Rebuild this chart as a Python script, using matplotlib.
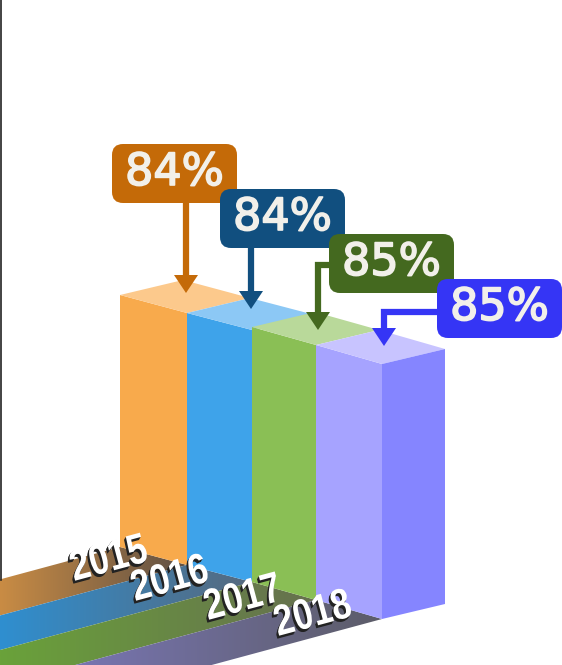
import matplotlib
matplotlib.use('Agg')
import matplotlib.pyplot as plt
import matplotlib.patheffects as pe
from matplotlib.colors import LinearSegmentedColormap, to_rgb
from matplotlib.patches import FancyBboxPatch, Polygon
from matplotlib.transforms import Affine2D
import numpy as np

# data
years = ['2015', '2016', '2017', '2018']
values = [84, 84, 85, 85]
labels = ['84%', '84%', '85%', '85%']

# colours
front_colors = ['#f8aa4c', '#3ea3ea', '#8abf55', '#a6a3ff']
top_colors = ['#fcc98c', '#8cc8f5', '#b9d99a', '#c8c4ff']
box_colors = ['#c46a08', '#114f7f', '#44691f', '#3535f5']
floor_left = ['#c98c44', '#2f8fd0', '#6aa23a', '#7f7bc4']
floor_right = ['#5f5044', '#56697e', '#66704f', '#5c5c68']

# layout in picture pixels
edge_x = [120, 187, 252, 316, 382]
floor_y = [547, 565, 582, 600, 619]
depth = (63, -15)
px_per_pct = 3
floor_slope = 0.27

box_x = [112, 220, 329, 437]
box_y = [144, 189, 234, 279]
box_w, box_h = 125, 59


# squeezes the glyphs sideways and draws a dark extrusion under them
class Condensed(pe.AbstractPathEffect):
    def __init__(self, sx, shadow, depth_px):
        super().__init__()
        self.sx = sx
        self.shadow = to_rgb(shadow)
        self.depth_px = depth_px

    def draw_path(self, renderer, gc, tpath, affine, rgbFace):
        squeezed = Affine2D().scale(self.sx, 1.0) + affine
        for d in range(self.depth_px, 0, -1):
            renderer.draw_path(gc, tpath, squeezed + Affine2D().translate(-d * 0.6, -d), self.shadow)
        renderer.draw_path(gc, tpath, squeezed, rgbFace)


fig = plt.figure(figsize=(5.62, 6.65), dpi=100)
ax = fig.add_axes([0, 0, 1, 1])
ax.axis('off')

# floor bands
for i in range(4):
    x0, x1 = edge_x[i], edge_x[i + 1]
    f0, f1 = floor_y[i], floor_y[i + 1]
    pts = [(0, f0 + floor_slope * x0), (x0, f0), (x1, f1), (0, f1 + floor_slope * x1)]
    clip = Polygon(pts, transform=ax.transData, fc='none', ec='none')
    ax.add_patch(clip)
    cmap = LinearSegmentedColormap.from_list('band', [floor_left[i], floor_right[i]])
    im = ax.imshow(np.linspace(0, 1, 256).reshape(1, -1), cmap=cmap, aspect='auto',
                   extent=[0, x1, 730, 530], zorder=1)
    im.set_clip_path(clip)

# bars
for i, v in enumerate(values):
    h = v * px_per_pct
    x0, x1 = edge_x[i], edge_x[i + 1]
    f0, f1 = floor_y[i], floor_y[i + 1]
    t0, t1 = f0 - h, f1 - h
    ax.add_patch(Polygon([(x0, t0), (x1, t1), (x1, f1), (x0, f0)], fc=front_colors[i], ec='none', zorder=3 + i))
    ax.add_patch(Polygon([(x0, t0), (x1, t1), (x1 + depth[0], t1 + depth[1]), (x0 + depth[0], t0 + depth[1])],
                         fc=top_colors[i], ec='none', zorder=3 + i))
    if i == 3:
        ax.add_patch(Polygon([(x1, t1), (x1 + depth[0], t1 + depth[1]), (x1 + depth[0], f1 + depth[1]), (x1, f1)],
                             fc='#8585ff', ec='none', zorder=3 + i))

# arrows: (path of the shaft, tip)
arrow_paths = [
    [(186, 203), (186, 280)],
    [(251, 248), (251, 295)],
    [(329, 264.5), (318, 264.5), (318, 315)],
    [(437, 312), (384, 312), (384, 332)],
]
arrow_tips = [(186, 293), (251, 309), (318, 330), (384, 346)]
for i in range(4):
    xs, ys = zip(*arrow_paths[i])
    ax.plot(xs, ys, color=box_colors[i], lw=4.5, solid_capstyle='butt', solid_joinstyle='miter', zorder=10 + i)
    tx, ty = arrow_tips[i]
    ax.add_patch(Polygon([(tx - 12, ty - 18), (tx + 12, ty - 18), (tx, ty)], fc=box_colors[i], ec='none', zorder=10 + i))

# value boxes
for i in range(4):
    ax.add_patch(FancyBboxPatch((box_x[i] + 9, box_y[i] + 9), box_w - 18, box_h - 18,
                                boxstyle='round,pad=9,rounding_size=11',
                                fc=box_colors[i], ec='none', zorder=20 + i))
    ax.text(box_x[i] + box_w / 2, box_y[i] + box_h / 2 - 1, labels[i], color='#f2f0ea', fontsize=32,
            ha='center', va='center', family='DejaVu Sans', zorder=20 + i,
            path_effects=[pe.withStroke(linewidth=1.2, foreground='#f2f0ea')])

# year labels
year_x = [74, 135, 208, 278]
year_y = [581, 601, 620, 636]
for i in range(4):
    ax.text(year_x[i], year_y[i], years[i], color='white', fontsize=31, rotation=15, fontweight='bold',
            family='Liberation Sans', ha='left', va='baseline', zorder=30,
            rotation_mode='anchor',
            path_effects=[Condensed(0.82, '#222222', 3)])

# dark line on the left edge
ax.plot([0.5, 0.5], [0, 580], color='#222222', lw=1.2, zorder=2)

ax.set_xlim(0, 562)
ax.set_ylim(665, 0)
fig.savefig('out.png', dpi=100, facecolor='white')
